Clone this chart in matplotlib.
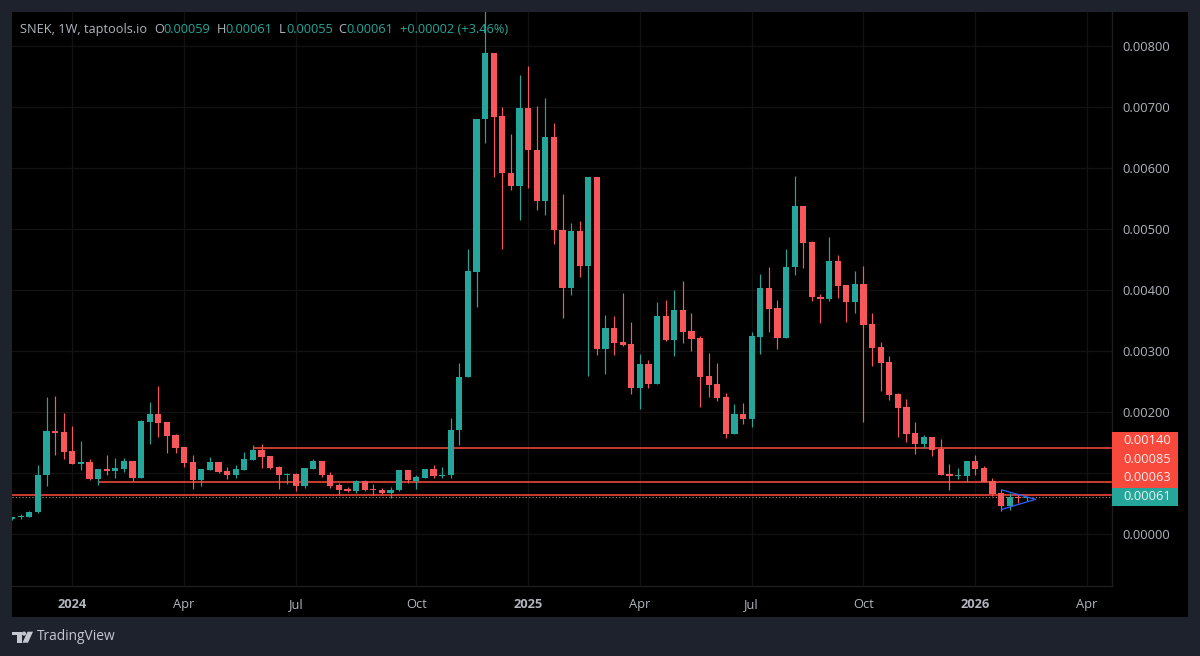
import numpy as np
import matplotlib
matplotlib.use("Agg")
import matplotlib.pyplot as plt
from matplotlib.patches import Rectangle, Polygon, Circle

# weekly candles, prices in units of 0.00001, first candle is 7 weeks before Jan 2024
first_week = -7
opens = [26,28,29,36,96.7,168.7,167,136.5,115.8,119,
         90.7,106.5,103.7,106.5,119.6,92.8,184.5,197,184,162.7,
         142.5,118,89,105.4,118,103,96.6,105.4,122.3,138,
         128,110.8,97.7,98.8,79,106.5,119.5,97.2,80.3,73.7,
         71,87.4,73.7,73,67.7,72,104.8,88,92.3,107.5,
         95.5,97.2,170.3,257,430,679.3,787.9,684,591.5,569.7,
         697.3,629,545,650,498.7,403.8,496.6,439.3,585.5,302.9,
         337,314.3,311,239.6,278.9,246.7,357.4,318,367.2,332.3,
         321.4,259.2,246.1,224.8,164.3,197,188.8,323.6,403.3,370,
         322,437,537.5,478.5,388.5,385.2,448,407.6,380.3,409.3,
         344.3,306.7,282.1,229.2,208.5,165.4,148,158.9,139.8,99.4,
         95.6,96.1,119.6,108.1,87.4,67.2,46.5,62,59]
highs = [28,33,37.5,113.6,224.3,226,198.7,177.4,152.8,122.8,
         106.5,129.4,125,124.5,119.6,186.7,216,243.4,184,163.8,
         142.5,129.4,107.6,126,119,110,113.6,134.8,146,148,
         128,112,101,101,109,123.4,119.5,102,84.6,77.5,
         89,88.4,82,75.3,77.5,106,104.8,96.6,107.5,113,
         109.7,190,280,466.6,680.5,860,787.9,700,655,752,
         766.6,701,714,672.8,557,509,513,585.5,585.5,359,
         357.4,395,347,295.2,285.4,380.3,383.6,399.4,414.7,362.9,
         324.7,296.9,280.5,231.4,213.4,215,330.7,426.2,437.6,383,
         467,586.6,537.5,479.6,393.4,486.7,456.7,407.6,430.5,439.3,
         362.9,314.9,291.9,230.8,221.6,184,162.7,158.9,155.6,115.2,
         108.1,119.6,129.4,112,92.3,74.3,68.3,66,61]
lows = [24,26,28,34.5,79.7,130.5,122.8,115.8,105.4,89.6,
        80.8,96.6,92.8,102.7,88,92.8,148.5,160,134,133.8,
        110.8,73.7,79.7,105.4,101,90.7,92.8,105.4,122.3,108,
        107,74.8,82.4,70.4,76,106.5,93.4,76,64,68.8,
        68.3,71,64,66,59,71,83.5,73.7,92.3,92.3,
        92.3,92.8,145.7,257,372,641,585.5,466.6,563.7,515,
        566.4,531,523.3,475.8,354,392,420.7,259,293.6,262.5,
        293.6,308.3,230.3,204.7,239.6,246.7,316.5,292.5,312.7,300.1,
        209,224.8,218.8,157.2,164.3,181.2,175.7,295.2,331.2,302.9,
        322,425,436.5,382.5,346,382.5,387.4,348.2,362.9,184.5,
        275.6,234.7,220.5,160,151.8,131.6,142,128.3,97.8,73.2,
        90.7,86.3,97.8,85.2,62.9,38.3,40,52,55]
closes = [28,30,37,97,168.7,166,135.4,115.8,119,90.7,
          106.5,103.7,108,119.6,92.8,185.6,197,182.8,161.6,142,
          117.4,89,106.5,118,102,96.6,106.5,123.4,138,127,
          109,96.6,99.4,79,108,119.5,96.6,79.7,72,70.4,
          88,72,72.6,67.7,73,104.8,88.4,93.4,107.5,95.5,
          97.2,170.8,257.6,430.5,679.9,787.9,683.7,591,569.7,697.3,
          628.6,545,650,498.7,404,496.6,439.3,585.5,302.9,337,
          312.7,310,239.6,278.9,246.7,357.4,318,367.2,331.2,319.8,
          258.1,244.5,223.2,164.3,197,188.8,324.1,403.3,368.9,322,
          437.6,537.5,476.9,388,385.2,448,406.5,380.3,409.3,342.7,
          305.6,281,227.6,207.4,164.3,148,158.9,138.2,97.8,95,
          97.8,119.6,107,85.2,66.1,46,61.8,59,61]

# horizontal levels: price, first week, label
level_prices = [0.001410, 0.000853, 0.000640]
level_start = [21, 3, -7]
level_labels = ["0.00140", "0.00085", "0.00063"]
last_price = 0.00061

# triangle drawn on the last candles
tri_weeks = [108.1, 112.0, 108.1]
tri_prices = [0.000727, 0.000574, 0.000410]

price_ticks = [0, 0.001, 0.002, 0.003, 0.004, 0.005, 0.006, 0.007, 0.008]
week_ticks = [0, 13, 26, 40, 53, 66, 79, 92, 105, 118]
week_labels = ["2024", "Apr", "Jul", "Oct", "2025", "Apr", "Jul", "Oct", "2026", "Apr"]

green = "#26a69a"
red = "#f7565a"
line_red = "#f8493c"
grey = "#b2b5be"
font = "Open Sans"

plt.rcParams["font.family"] = font

W, H = 1200, 656
fig = plt.figure(figsize=(W / 100, H / 100), dpi=100, facecolor="#1e222d")

# overlay in pixel coords, only for the panel background and the text on top
back = fig.add_axes([0, 0, 1, 1], zorder=0)
back.set_xlim(0, W)
back.set_ylim(H, 0)
back.axis("off")
back.add_patch(Rectangle((12, 12), 1176, 605, color="black", lw=0))

# main chart, 8.6 px a week and 61.1 px per 0.001
left, right, top, bottom = 12, 1112, 12, 586
ax = fig.add_axes([left / W, 1 - bottom / H, (right - left) / W, (bottom - top) / H], zorder=1)
ax.set_facecolor("black")
ax.set_xlim((left - 72.3) / 8.6, (right - 72.3) / 8.6)
ax.set_ylim((534.4 - bottom) / 61100, (534.4 - top) / 61100)

x = np.arange(len(opens)) + first_week
o = np.array(opens) * 1e-5
h = np.array(highs) * 1e-5
l = np.array(lows) * 1e-5
c = np.array(closes) * 1e-5
colors = [green if cl >= op else red for op, cl in zip(o, c)]

for price, start in zip(level_prices, level_start):
    ax.plot([start, ax.get_xlim()[1]], [price, price], color=line_red, lw=1.15, zorder=2, solid_capstyle="butt")
ax.axhline(last_price, color="#b08a80", lw=0.8, ls=(0, (1, 2)), zorder=1.5)

ax.vlines(x, l, h, colors=colors, lw=0.85, zorder=3)
ax.bar(x, np.abs(c - o), bottom=np.minimum(o, c), width=0.74, color=colors, lw=0, zorder=4)

ax.plot(tri_weeks, tri_prices, color="#2962ff", lw=0.9, zorder=5)

ax.set_xticks(week_ticks)
ax.set_xticklabels(week_labels)
ax.set_yticks(price_ticks)
# the 0.00100 label sits behind the level boxes, so it is left out
ax.set_yticklabels(["" if p == 0.001 else "%.5f" % p for p in price_ticks])
ax.yaxis.tick_right()
ax.grid(True, color="#121212", lw=0.9)
ax.set_axisbelow(True)
ax.tick_params(axis="x", length=0, pad=8.5, labelcolor=grey, labelsize=9.3)
ax.tick_params(axis="y", length=0, pad=7.5, labelcolor=grey, labelsize=9.3)
for lab in ax.get_xticklabels():
    if lab.get_text().startswith("20"):
        lab.set_fontweight("bold")
for side in ["left", "top"]:
    ax.spines[side].set_visible(False)
for side in ["right", "bottom"]:
    ax.spines[side].set_color("#1c1e22")
    ax.spines[side].set_linewidth(1)

front = fig.add_axes([0, 0, 1, 1], zorder=2)
front.set_xlim(0, W)
front.set_ylim(H, 0)
front.axis("off")

# header row
front.text(20, 29.5, "SNEK, 1W, taptools.io", color=grey, fontsize=9.2, va="center")
parts = [(154, "O", grey), (163, "0.00059", green), (216.5, "H", grey), (225, "0.00061", green),
         (279, "L", grey), (286, "0.00055", green), (338.5, "C", grey), (346.5, "0.00061", green),
         (400.5, "+0.00002 (+3.46%)", green)]
for px, txt, col in parts:
    front.text(px, 29.5, txt, color=col, fontsize=9.2, va="center")

# price labels on the scale
front.add_patch(Rectangle((1112, 431.5), 65.5, 56, color=line_red, lw=0))
front.add_patch(Rectangle((1112, 488), 65.5, 18, color=green, lw=0))
for py, txt in zip([440.5, 459.3, 477.8], level_labels):
    front.text(1123, py, txt, color="#fdeceb", fontsize=9.3, va="center")
front.text(1123, 497, "%.5f" % last_price, color="#e4f5f3", fontsize=9.3, va="center")

# TradingView logo
logo = "#c5c8d0"
front.add_patch(Polygon([(11.7, 631.7), (21.7, 631.7), (21.7, 642.7), (16.7, 642.7), (16.7, 635), (11.7, 635)], color=logo, lw=0))
front.add_patch(Circle((24, 633.6), 2.1, color=logo, lw=0))
front.add_patch(Polygon([(27.5, 631.7), (33, 631.7), (28, 642.7), (22.5, 642.7)], color=logo, lw=0))
front.text(37, 637, "TradingView", color=logo, fontsize=9.9, va="center")

fig.savefig("out.png", dpi=100, facecolor=fig.get_facecolor())
